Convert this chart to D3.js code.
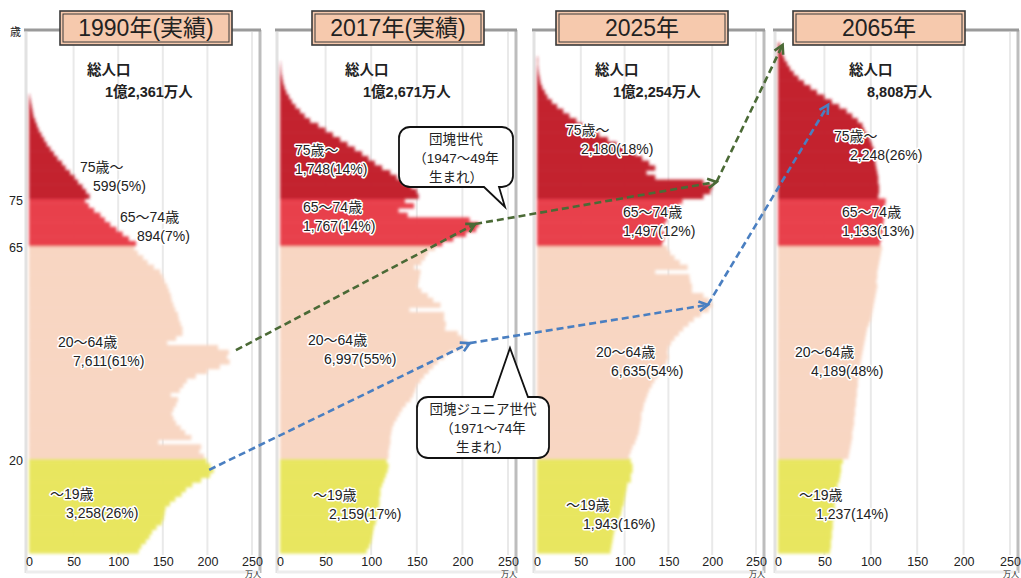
<!DOCTYPE html>
<html><head><meta charset="utf-8">
<script src="https://cdn.jsdelivr.net/npm/d3@7"></script>
<style>
body{margin:0;background:#fff;}
svg text{font-family:"Liberation Sans","Noto Sans CJK JP",sans-serif;fill:#222;}
</style></head><body>
<svg id="chart" width="1021" height="578"></svg>
<script>
// ---- data (万人, index = age in years) ----
const years = ["1990年(実績)", "2017年(実績)", "2025年", "2065年"];
const totals = ["1億2,361万人", "1億2,671万人", "1億2,254万人", "8,808万人"];
const groupNames = ["～19歳", "20～64歳", "65～74歳", "75歳～"];
const groupStart = [0, 20, 65, 75];
const groupTotals = [[3258, 7611, 894, 599], [2159, 6997, 1767, 1748], [1943, 6635, 1497, 2180], [1237, 4189, 1133, 2248]];
const groupShares = [[26, 61, 7, 5], [17, 55, 14, 14], [16, 54, 12, 18], [14, 48, 13, 26]];

const pop1990 = [
  123,126,131,135,138,143,149,151,152,153,158,164,171,176,183,193,203,207,203,199,
  196,191,193,145,182,175,170,165,162,160,162,165,167,159,169,173,177,187,200,214,
  225,222,224,212,155,165,172,172,170,168,167,164,162,160,159,157,155,152,150,147,
  140,133,128,122,118,
  120,112,105,98,91,85,80,73,67,63,
  68,64,60,55,51,46,41,37,32,28,24,20,17,14,11,9,7,5,4,3,2,1
];
const pop2017 = [
  95,98,100,101,102,103,105,106,107,108,109,109,110,110,112,114,116,118,119,117,
  119,119,120,121,121,122,123,125,128,131,134,138,143,146,148,150,154,158,163,168,
  173,180,186,198,205,200,195,181,182,180,180,142,176,168,162,155,151,152,153,154,
  147,155,159,162,170,
  178,190,204,215,218,208,140,130,147,137,
  152,150,144,135,128,121,112,104,97,90,82,74,66,58,50,42,33,27,22,17,13,10,7,5,3.5,2.5,1.5,1,0.5
];
const pop2025 = [
  84,85,86,87,88,90,92,94,96,97,99,100,101,102,103,107,107,109,109,107,
  105,107,109,112,114,116,117,118,119,119,121,122,124,126,128,131,134,138,142,145,
  148,150,149,150,153,157,162,167,173,179,187,196,200,196,190,177,177,175,174,135,
  172,163,157,152,149,
  143,145,146,138,145,148,150,155,161,166,
  190,198,200,190,135,125,135,128,120,112,100,91,81,71,61,52,45,37,30,23,17,12,9,6,4,3,2,1.3,0.8,0.9
];
const pop2065 = [
  56,57,57,58,58,59,59,60,60,61,61,62,62,64,64,66,67,68,68,70,
  76,77,78,79,80,80,81,82,82,83,83,84,84,85,85,86,86,87,87,88,
  89,90,91,92,93,94,95,96,98,100,101,102,103,104,105,106,107,106,107,107,
  108,109,110,111,112,
  110,111,112,113,113,114,114,115,115,116,
  108,109,109,108,108,107,106,105,104,103,103,101,99,96,93,91,86,80,74,66,58,50,42,35,28,22,17,13,10,7,5,3,2
];
const populations = [pop1990, pop2017, pop2025, pop2065];

const xTicks = [0, 50, 100, 150, 200, 250];
const ageTicks = [20, 65, 75];

// cohort paths: [panel, 万人, age]
const boomerPath = [[0, 232, 42.9], [1, 214, 69.6], [2, 205, 78.5], [3, 5, 107.5]];
const juniorPath = [[0, 202, 17.6], [1, 208, 44.4], [2, 195, 52.5], [3, 54, 94.8]];

// ---- layout ----
const colors = ["#e8e65e", "#f8d6c2", "#e8404c", "#c3222f"];
const panelLeft = [29, 280, 537, 778];
const panelRight = [252, 508, 756, 1010];
const titleBoxX = [60, 312, 556, 793];
const totalPos = [[58, 70], [65, 70], [58, 70], [71, 70]];
const labelPos = [ // [dx from panel left, y, indent of 2nd line]
  [[21, 494, 16], [29, 342, 15], [91, 217, 17], [51, 167, 13]],
  [[33, 495, 16], [28, 340, 16], [23, 207, 0], [15, 150, 0]],
  [[29, 505, 17], [59, 352, 15], [86, 212, 0], [29, 130, 15]],
  [[21, 495, 17], [17, 352, 16], [64, 212, 0], [56, 136, 16]]
];

const svg = d3.select("#chart");
const y = d3.scaleLinear().domain([0, 110]).range([553, 33]);
const xs = panelLeft.map((l, i) => d3.scaleLinear().domain([0, 250]).range([l, panelRight[i]]));
const fmt = d3.format(",");
const groupOf = a => a >= 75 ? 3 : a >= 65 ? 2 : a >= 20 ? 1 : 0;

const defs = svg.append("defs");
defs.append("filter").attr("id", "soft").attr("x", "-5%").attr("y", "-5%").attr("width", "110%").attr("height", "110%")
  .append("feGaussianBlur").attr("stdDeviation", 1.4);

populations.forEach((pop, p) => {
  const x = xs[p];
  const g = svg.append("g");
  const L = panelLeft[p], R = panelRight[p];

  // frame
  g.selectAll("line.grid").data(xTicks.slice(1)).join("line")
    .attr("x1", d => x(d)).attr("x2", d => x(d)).attr("y1", 32).attr("y2", 555)
    .attr("stroke", "#e9e9e9").attr("stroke-width", 2);
  g.append("line").attr("x1", L - 3).attr("x2", L - 3).attr("y1", 32).attr("y2", 573).attr("stroke", "#e2e2e2").attr("stroke-width", 3);
  g.append("line").attr("x1", R + 8).attr("x2", R + 8).attr("y1", 30).attr("y2", 573).attr("stroke", "#bdbdbd").attr("stroke-width", 3);
  g.append("line").attr("x1", L - 5).attr("x2", R + 9).attr("y1", 30).attr("y2", 30).attr("stroke", "#9a9a9a").attr("stroke-width", 3);
  g.append("line").attr("x1", L - 3).attr("x2", R + 8).attr("y1", 572).attr("y2", 572).attr("stroke", "#ededed").attr("stroke-width", 3);

  // population bars by single year of age
  g.append("g").attr("filter", "url(#soft)")
    .selectAll("rect").data(pop).join("rect")
    .attr("x", x(0))
    .attr("y", (d, a) => y(a + 1))
    .attr("width", d => x(d) - x(0))
    .attr("height", (d, a) => y(a) - y(a + 1) + 0.6)
    .attr("fill", (d, a) => colors[groupOf(a)]);

  // x axis
  const ax = g.append("g").attr("transform", "translate(0,555)")
    .call(d3.axisBottom(x).tickValues(xTicks).tickSize(0).tickPadding(0));
  ax.select(".domain").remove();
  ax.selectAll("text").attr("font-size", 12.5).attr("dy", "0.85em").style("font-family", '"Liberation Sans",sans-serif').attr("fill", "#222");
  g.append("text").attr("x", x(250) + 1).attr("y", 577).attr("text-anchor", "middle").attr("font-size", 8).text("万人");

  // title box
  const tx = titleBoxX[p];
  g.append("rect").attr("x", tx).attr("y", 11).attr("width", 172).attr("height", 34)
    .attr("fill", "#f6c9ad").attr("stroke", "#3a3a3a").attr("stroke-width", 1.6);
  g.append("rect").attr("x", tx + 3).attr("y", 14).attr("width", 166).attr("height", 28)
    .attr("fill", "none").attr("stroke", "#3a3a3a").attr("stroke-width", 1);
  g.append("text").attr("x", tx + 86).attr("y", 28).attr("dy", "0.36em").attr("text-anchor", "middle")
    .attr("font-size", 23).text(years[p]);

  // total population
  const [tdx, ty] = totalPos[p];
  g.append("text").attr("x", L + tdx).attr("y", ty).attr("dy", "0.35em").attr("font-size", 14.5).attr("font-weight", "bold").text("総人口");
  g.append("text").attr("x", L + tdx + 18).attr("y", ty + 22).attr("dy", "0.35em").attr("font-size", 14.5).attr("font-weight", "bold").text(totals[p]);

  // age-group labels
  groupNames.forEach((name, k) => {
    const [dx, ly, ind] = labelPos[p][k];
    const t = g.append("g").attr("font-size", 14)
      .attr("paint-order", "stroke").attr("stroke", "#fff").attr("stroke-width", 3).attr("stroke-linejoin", "round");
    t.append("text").attr("x", L + dx).attr("y", ly).attr("dy", "0.35em").attr("stroke", "#fff").text(name);
    t.append("text").attr("x", L + dx + ind).attr("y", ly + 19).attr("dy", "0.35em").attr("stroke", "#fff")
      .text(`${fmt(groupTotals[p][k])}(${groupShares[p][k]}%)`);
  });
});

// age axis (first panel)
svg.append("text").attr("x", 10).attr("y", 36).attr("font-size", 11).text("歳");
svg.selectAll("text.age").data(ageTicks).join("text")
  .attr("x", 23).attr("y", d => y(d) + 2).attr("dy", "0.35em").attr("text-anchor", "end").attr("font-size", 12.5).text(d => d);

// speech bubbles
function bubble(x0, y0, w, h, r, side, t1, t2, tip) {
  const p = d3.path();
  p.moveTo(x0 + r, y0);
  if (side === "top") { p.lineTo(t1, y0); p.lineTo(tip[0], tip[1]); p.lineTo(t2, y0); }
  p.lineTo(x0 + w - r, y0);
  p.arcTo(x0 + w, y0, x0 + w, y0 + r, r);
  p.lineTo(x0 + w, y0 + h - r);
  p.arcTo(x0 + w, y0 + h, x0 + w - r, y0 + h, r);
  if (side === "bottom") { p.lineTo(t2, y0 + h); p.lineTo(tip[0], tip[1]); p.lineTo(t1, y0 + h); }
  p.lineTo(x0 + r, y0 + h);
  p.arcTo(x0, y0 + h, x0, y0 + h - r, r);
  p.lineTo(x0, y0 + r);
  p.arcTo(x0, y0, x0 + r, y0, r);
  p.closePath();
  return p.toString();
}
const callouts = [
  {box: [399, 127, 114, 60], side: "bottom", t: [484, 499], tip: [505, 207], lines: ["団塊世代", "（1947～49年", "生まれ）"]},
  {box: [417, 397, 132, 61], side: "top", t: [493, 528], tip: [510, 348], lines: ["団塊ジュニア世代", "（1971～74年", "生まれ）"]}
];

// cohort arrows
function drawCohort(path, color) {
  const pts = path.map(([p, v, a]) => [xs[p](v), y(a)]);
  const g = svg.append("g").attr("stroke", color).attr("fill", "none").attr("stroke-width", 2.6);
  for (let i = 1; i < pts.length; i++) {
    const [ax, ay] = pts[i - 1], [bx, by] = pts[i];
    g.append("line").attr("x1", ax).attr("y1", ay).attr("x2", bx).attr("y2", by).attr("stroke-dasharray", "7,4");
    const th = Math.atan2(by - ay, bx - ax), s = 10;
    g.append("path").attr("stroke-linejoin", "miter")
      .attr("d", `M${bx - s * Math.cos(th - 0.5)},${by - s * Math.sin(th - 0.5)}L${bx},${by}L${bx - s * Math.cos(th + 0.5)},${by - s * Math.sin(th + 0.5)}`);
  }
}
drawCohort(boomerPath, "#4b6a36");
drawCohort(juniorPath, "#4a7fc1");

callouts.forEach(c => {
  const [bx, by, bw, bh] = c.box;
  svg.append("path").attr("d", bubble(bx, by, bw, bh, 11, c.side, c.t[0], c.t[1], c.tip))
    .attr("fill", "#fff").attr("stroke", "#111").attr("stroke-width", 1.8);
  c.lines.forEach((ln, i) => {
    svg.append("text").attr("x", bx + bw / 2).attr("y", by + 12 + i * 19).attr("dy", "0.35em")
      .attr("text-anchor", "middle").attr("font-size", 13.5).text(ln);
  });
});
</script>
</body></html>
